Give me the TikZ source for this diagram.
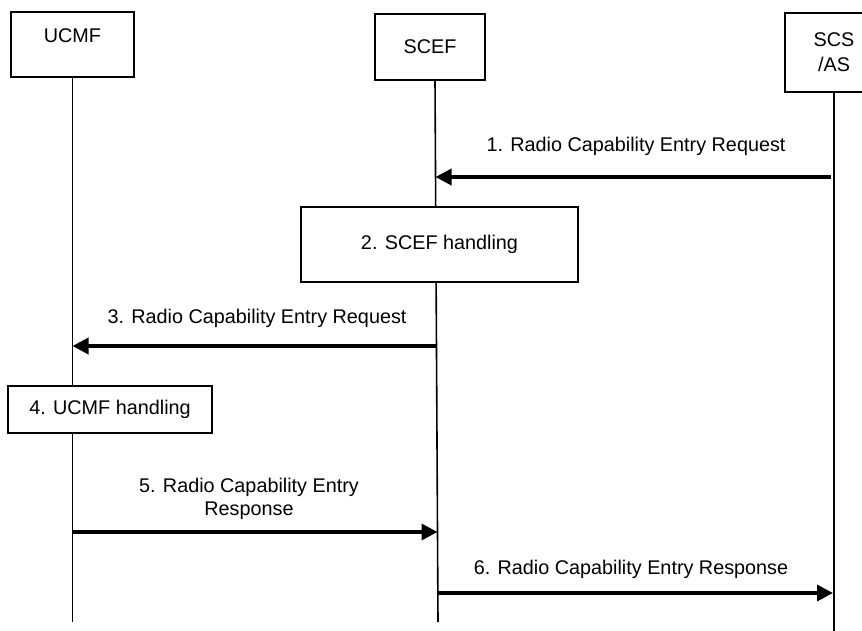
\documentclass[tikz,border=0pt]{standalone}
\usepackage{fontspec}
\setmainfont{Liberation Sans}
\usetikzlibrary{arrows.meta}
\begin{document}
\begin{tikzpicture}[x=1pt,y=-1pt,
  every node/.style={font=\fontsize{19.8}{23}\selectfont},
  box/.style={draw, line width=1.8pt, fill=white, inner sep=0pt, align=center},
  life/.style={line width=1.6pt},
  msg/.style={line width=3.6pt, -{Triangle[length=16pt,width=16pt]}},
  lbl/.style={inner sep=0pt, align=center}]
\path[use as bounding box] (0,0) rectangle (862,631);
\clip (0,0) rectangle (862,631);
% lifeline coordinates
\coordinate (uTop) at (72.5,77);
\coordinate (uBot) at (72.5,622);
\coordinate (sTop) at (435,80);
\coordinate (sBot) at (438,622);
\coordinate (aTop) at (834,92);
\coordinate (aBot) at (834,631);
\draw[life] (uTop) -- (uBot);
\draw[life] (sTop) -- (sBot);
\draw[life] (aTop) -- (aBot);
% entity boxes
\node[box, minimum width=123pt, minimum height=65pt, text depth=17pt] (ucmf) at (72.5,44.5) {UCMF};
\node[box, minimum width=110pt, minimum height=66pt] (scef) at (430,47) {SCEF};
\node[box, minimum width=98pt, minimum height=79pt] (scs) at (834,52.5) {SCS\\[2pt]/AS};
% message endpoints
\coordinate (m1s) at (831,177);
\coordinate (m1e) at (435.5,177);
\coordinate (m3s) at (436.5,346);
\coordinate (m3e) at (72.5,346);
\coordinate (m5s) at (72.5,532);
\coordinate (m5e) at (437.5,532);
\coordinate (m6s) at (437.8,593);
\coordinate (m6e) at (833,593);
% step 1
\node[lbl] (t1) at (636,146) {1. Radio Capability Entry Request};
\draw[msg] (m1s) -- (m1e);
% step 2
\node[box, minimum width=277pt, minimum height=75pt] (h2) at (439.5,244.5) {2. SCEF handling};
% step 3
\node[lbl] (t3) at (257,318) {3. Radio Capability Entry Request};
\draw[msg] (m3s) -- (m3e);
% step 4
\node[box, minimum width=204pt, minimum height=47pt] (h4) at (110,409.5) {4. UCMF handling};
% step 5
\node[lbl] (t5) at (249,498.5) {5. Radio Capability Entry\\Response};
\draw[msg] (m5s) -- (m5e);
% step 6
\node[lbl] (t6) at (631,569) {6. Radio Capability Entry Response};
\draw[msg] (m6s) -- (m6e);
\end{tikzpicture}
\end{document}
